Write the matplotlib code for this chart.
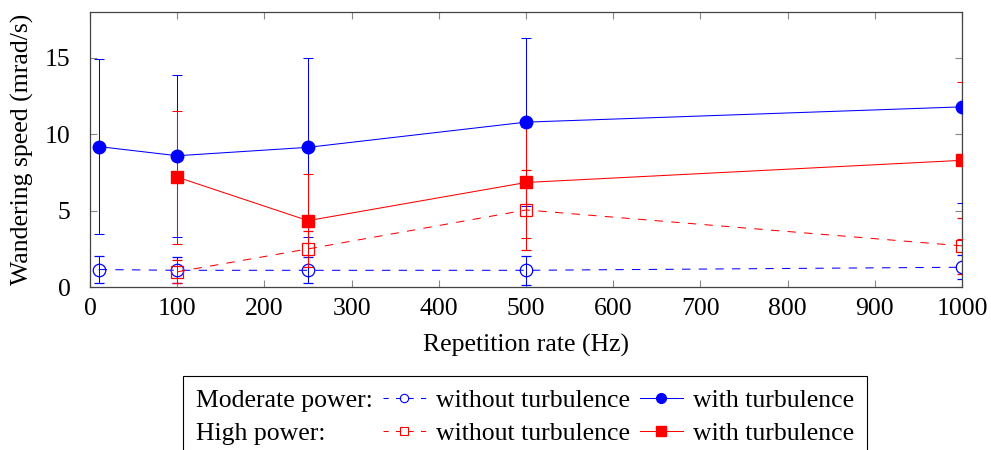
import matplotlib
matplotlib.use("Agg")
import matplotlib.pyplot as plt
from matplotlib.lines import Line2D
from matplotlib.patches import Rectangle

plt.rcParams['font.family'] = ['Liberation Serif', 'DejaVu Serif']
plt.rcParams['font.size'] = 18.5

# Données
rate_mod = [10, 100, 250, 500, 1000]
rate_high = [100, 250, 500, 1000]

mod_sans = [1.15, 1.1, 1.1, 1.1, 1.3]
mod_sans_err = [0.9, 0.85, 0.85, 0.95, 0.8]
mod_avec = [9.2, 8.6, 9.15, 10.8, 11.8]
mod_avec_err = [5.75, 5.3, 5.85, 5.5, 6.3]

high_sans = [1.0, 2.5, 5.05, 2.7]
high_sans_err = [0.75, 1.2, 2.6, 1.85]
high_avec = [7.2, 4.35, 6.85, 8.3]
high_avec_err = [4.35, 3.05, 3.65, 5.15]

BLEU = (0, 0, 1)
ROUGE = (1, 0, 0)
tirets = (0, (8, 8))

fig = plt.figure(figsize=(9.91, 4.5), dpi=100)
ax = fig.add_axes([0.0908, 0.362, 0.880, 0.611])

ax.errorbar(rate_mod, mod_sans, yerr=mod_sans_err, color=BLEU, lw=0.75, ls=tirets,
            marker='o', ms=9, mfc='none', mew=0.9, capsize=3.5, elinewidth=0.75,
            capthick=0.75, zorder=2)
ax.errorbar(rate_high, high_sans, yerr=high_sans_err, color=ROUGE, lw=0.75, ls=tirets,
            marker='s', ms=8.5, mfc='none', mew=0.9, capsize=3.5, elinewidth=0.75,
            capthick=0.75, zorder=2)
ax.errorbar(rate_mod, mod_avec, yerr=mod_avec_err, color=BLEU, lw=0.75, ls='-',
            marker='o', ms=9, capsize=3.5, elinewidth=0.75, capthick=0.75, zorder=3)
ax.errorbar(rate_high, high_avec, yerr=high_avec_err, color=ROUGE, lw=0.75, ls='-',
            marker='s', ms=9, capsize=3.5, elinewidth=0.75, capthick=0.75, zorder=3)

ax.set_xlim(0, 1000)
ax.set_ylim(0, 18)
ax.set_xticks(range(0, 1001, 100))
ax.set_yticks([0, 5, 10, 15])
ax.tick_params(direction='in', top=True, right=True, length=5, width=0.8,
               color='#888888', labelsize=18.5)
ax.tick_params(axis='x', pad=8)
ax.tick_params(axis='y', pad=14)
for s in ax.spines.values():
    s.set_color('#444444')
    s.set_linewidth(0.9)
ax.set_xlabel('Repetition rate (Hz)', labelpad=10)
ax.set_ylabel('Wandering speed (mrad/s)', labelpad=8)


class TitreHandler:
    """Pas de poignée pour les titres de ligne de la légende."""
    def legend_artist(self, legend, orig_handle, fontsize, handlebox):
        handlebox.width = -legend.handletextpad * fontsize
        r = Rectangle((0, 0), 0, 0, visible=False)
        handlebox.add_artist(r)
        return r


class Titre:
    pass


t1, t2 = Titre(), Titre()
h_ms = Line2D([], [], color=BLEU, lw=0.75, ls=(0, (5, 7)), marker='o', ms=6, mfc='none', mew=0.8)
h_hs = Line2D([], [], color=ROUGE, lw=0.75, ls=(0, (5, 7)), marker='s', ms=6, mfc='none', mew=0.8)
h_ma = Line2D([], [], color=BLEU, lw=0.75, marker='o', ms=7)
h_ha = Line2D([], [], color=ROUGE, lw=0.75, marker='s', ms=7)

leg = fig.legend([t1, t2, h_ms, h_hs, h_ma, h_ha],
                 ['Moderate power:', 'High power:', 'without turbulence',
                  'without turbulence', 'with turbulence', 'with turbulence'],
                 handler_map={Titre: TitreHandler()},
                 ncol=3, loc='upper center', bbox_to_anchor=(0.5298, 0.1644),
                 borderaxespad=0, frameon=True, fancybox=False, edgecolor='black',
                 framealpha=1, handlelength=1.65, handletextpad=0.4, columnspacing=0.4,
                 labelspacing=0.38, borderpad=0.5, fontsize=18.5)
leg.get_frame().set_linewidth(0.8)

fig.savefig('out.png', dpi=100)
